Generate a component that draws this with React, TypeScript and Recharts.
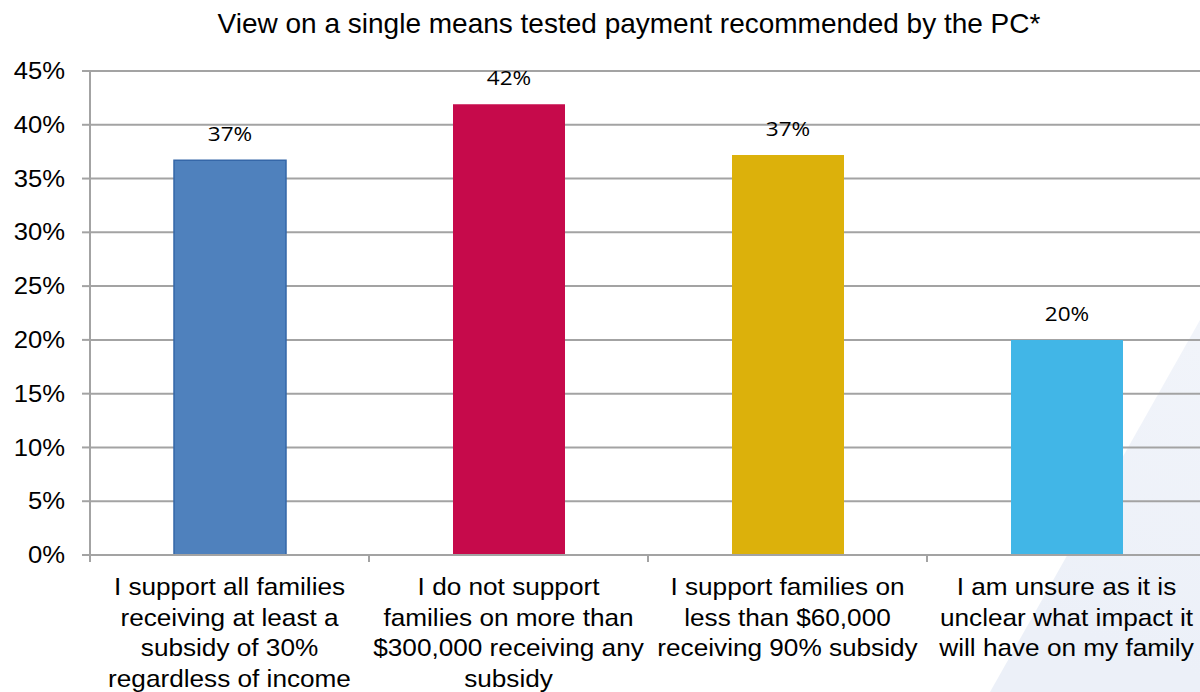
import React from 'react';
import { BarChart, Bar, XAxis, YAxis, CartesianGrid, Cell, LabelList } from 'recharts';

const categoryLines = [
  ['I support all families', 'receiving at least a', 'subsidy of 30%', 'regardless of income'],
  ['I do not support', 'families on more than', '$300,000 receiving any', 'subsidy'],
  ['I support families on', 'less than $60,000', 'receiving 90% subsidy'],
  ['I am unsure as it is', 'unclear what impact it', 'will have on my family'],
];
const shares = [36.7, 41.9, 37.2, 20.0];
const yTicks = [0, 5, 10, 15, 20, 25, 30, 35, 40, 45];
const barColors = ['#4F81BD', '#C60A4B', '#DCB10B', '#41B6E7'];
const barBorders = ['#3567A8', '#C60A4B', '#DCB10B', '#41B6E7'];

const data = categoryLines.map((lines, i) => ({ name: lines.join(' '), value: shares[i], idx: i }));

// the source image looks stretched sideways, so text is widened a bit
const SX = 1.1;
const GRID = '#A3A3A3';

function YTick(props: any) {
  const { x, y, payload } = props;
  return (
    <text
      transform={`translate(${x},${y}) scale(${SX},1)`}
      textAnchor="end"
      dominantBaseline="central"
      fontFamily="Liberation Sans, Arial, sans-serif"
      fontSize={23.3}
      fill="#000"
    >
      {payload.value}%
    </text>
  );
}

function XTick(props: any) {
  const { x, y, payload, index } = props;
  const half = payload.offset ?? 0;
  const lines = categoryLines[index] || [];
  return (
    <g>
      <line x1={x - half} x2={x - half} y1={y} y2={y + 7} stroke={GRID} strokeWidth={2} />
      <text
        transform={`translate(${x},${y}) scale(${SX},1)`}
        textAnchor="middle"
        fontFamily="Liberation Sans, Arial, sans-serif"
        fontSize={23.8}
        fill="#000"
      >
        {lines.map((l, i) => (
          <tspan key={i} x={0} y={40 + i * 30.7}>
            {l}
          </tspan>
        ))}
      </text>
    </g>
  );
}

function ValueLabel(props: any) {
  const { x, y, width, value } = props;
  return (
    <text
      transform={`translate(${x + width / 2},${y - 19}) scale(1.1,1)`}
      textAnchor="middle"
      fontFamily="Open Sans, sans-serif"
      fontSize={20.5}
      fill="#000"
    >
      {Math.round(value)}%
    </text>
  );
}

export default function App() {
  return (
    <div style={{ position: 'absolute', left: 0, top: 0, width: 1200, height: 692, overflow: 'hidden', background: '#fff' }}>
      <div
        style={{
          position: 'absolute',
          left: 0,
          top: 0,
          width: 1200,
          height: 692,
          background: 'linear-gradient(200deg, #F6F8FC 0%, #ECF0F8 60%)',
          clipPath: 'polygon(990px 692px, 1200px 320px, 1200px 692px)',
        }}
      />
      <div
        style={{
          position: 'absolute',
          left: 0,
          top: 10,
          width: 1258,
          textAlign: 'center',
          fontFamily: 'Liberation Sans, Arial, sans-serif',
          fontSize: 28,
          lineHeight: '28px',
          color: '#000',
        }}
      >
        View on a single means tested payment recommended by the PC*
      </div>
      <div style={{ position: 'absolute', left: 0, top: 0 }}>
        <BarChart width={1215} height={692} data={data} margin={{ top: 71, right: 9, bottom: 0, left: 0 }}>
          <CartesianGrid vertical={false} stroke={GRID} strokeWidth={2} />
          <XAxis
            dataKey="name"
            height={137}
            axisLine={{ stroke: GRID, strokeWidth: 2 }}
            tickLine={false}
            tickSize={0}
            tickMargin={0}
            interval={0}
            tick={<XTick />}
          />
          <YAxis
            width={90}
            domain={[0, 45]}
            ticks={yTicks}
            axisLine={{ stroke: GRID, strokeWidth: 2 }}
            tickLine={{ stroke: GRID, strokeWidth: 2 }}
            tickSize={8}
            tickMargin={17}
            tick={<YTick />}
          />
          <Bar dataKey="value" barSize={112} isAnimationActive={false}>
            {data.map((d) => (
              <Cell key={d.idx} fill={barColors[d.idx]} stroke={barBorders[d.idx]} strokeWidth={d.idx === 0 ? 1.5 : 0} />
            ))}
            <LabelList dataKey="value" content={<ValueLabel />} />
          </Bar>
        </BarChart>
      </div>
    </div>
  );
}
